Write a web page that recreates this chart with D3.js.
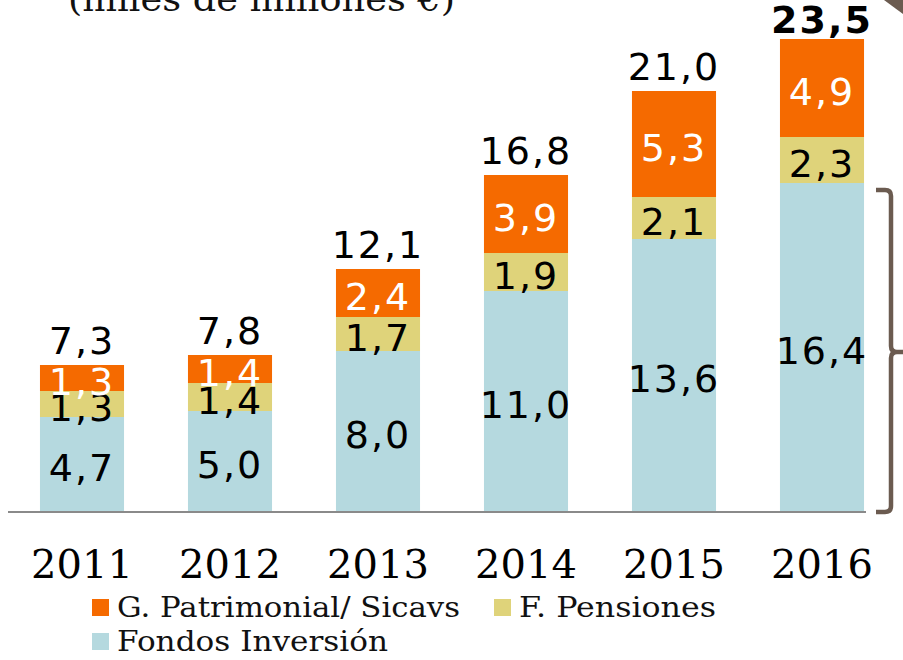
<!DOCTYPE html>
<html><head><meta charset="utf-8">
<script src="https://cdn.jsdelivr.net/npm/d3@7"></script>
<style>body{margin:0;background:#fff}svg{display:block}</style>
</head><body>
<svg id="c" width="903" height="660"></svg>
<script>
const years = ["2011","2012","2013","2014","2015","2016"];
const fondos = [4.7, 5.0, 8.0, 11.0, 13.6, 16.4];
const pensiones = [1.3, 1.4, 1.7, 1.9, 2.1, 2.3];
const patrimonial = [1.3, 1.4, 2.4, 3.9, 5.3, 4.9];
const totals = [7.3, 7.8, 12.1, 16.8, 21.0, 23.5];
const seriesNames = ["G. Patrimonial/ Sicavs", "F. Pensiones", "Fondos Inversión"];
const title = "(miles de millones €)";

const colors = {fondos:"#B5D9DF", pensiones:"#DFD37A", patrimonial:"#F56A00"};
const labelColors = {fondos:"#000", pensiones:"#000", patrimonial:"#fff"};
const fmt = v => d3.format(".1f")(v).replace(".", ",");

const svg = d3.select("#c");
const numFont = "DejaVu Sans";
const txtFont = "DejaVu Serif";

const rows = years.map((y,i)=>({year:y, fondos:fondos[i], pensiones:pensiones[i], patrimonial:patrimonial[i], total:totals[i]}));
const keys = ["fondos","pensiones","patrimonial"];
const stack = d3.stack().keys(keys)(rows);

const x = d3.scaleBand().domain(years).range([8, 896]).paddingInner(0.432).paddingOuter(0.216);
const y = d3.scaleLinear().domain([0, 25]).range([511, 11]);

// title (partially cut at top)
svg.append("text").attr("x", 68).attr("y", 11).attr("font-family", txtFont).attr("font-size", 34)
  .attr("fill", "#111").attr("textLength", 387).attr("lengthAdjust","spacingAndGlyphs").text(title);

// bars
const g = svg.append("g");
stack.forEach(layer => {
  const k = layer.key;
  g.selectAll(null).data(layer).enter().append("rect")
    .attr("x", d => x(d.data.year)).attr("width", x.bandwidth())
    .attr("y", d => y(d[1])).attr("height", d => y(d[0]) - y(d[1]))
    .attr("fill", colors[k]);
});
// segment labels
stack.forEach(layer => {
  const k = layer.key;
  g.selectAll(null).data(layer).enter().append("text")
    .attr("x", d => x(d.data.year) + x.bandwidth()/2)
    .attr("y", d => (y(d[0]) + y(d[1]))/2 + 17)
    .attr("text-anchor", "middle").attr("font-family", numFont).attr("font-size", 38)
    .attr("letter-spacing", 2)
    .attr("fill", labelColors[k]).text(d => fmt(d.data[k]));
});
// totals
g.selectAll(null).data(rows).enter().append("text")
  .attr("x", d => x(d.year) + x.bandwidth()/2)
  .attr("y", (d,i) => y(stack[2][i][1]) - (i===5 ? 6 : 11))
  .attr("text-anchor", "middle").attr("font-family", numFont).attr("font-size", 38)
  .attr("letter-spacing", 2)
  .attr("font-weight", (d,i) => i===5 ? "bold" : "normal")
  .attr("fill", "#000").text(d => fmt(d.total));

// baseline axis
svg.append("line").attr("x1", 8).attr("x2", 866).attr("y1", y(0)+1).attr("y2", y(0)+1)
  .attr("stroke", "#8a8a8a").attr("stroke-width", 2);

// x axis labels
const xAxis = d3.axisBottom(x).tickSize(0).tickPadding(0);
const ax = svg.append("g").attr("transform", `translate(0,${y(0)})`).call(xAxis);
ax.select(".domain").remove();
ax.selectAll("text").attr("font-family", txtFont).attr("font-size", 40).attr("fill", "#000")
  .attr("dy", null).attr("y", 67);

// brace
const bc = "#6B5B50";
svg.append("path")
  .attr("d", "M876,190 L885,190 Q891,190 891,196 L891,346 Q891,352 897,352 L903,352 M897,352 Q891,352 891,358 L891,506 Q891,512 885,512 L876,512")
  .attr("fill", "none").attr("stroke", bc).attr("stroke-width", 4.5);
// arrow corner top right
svg.append("path").attr("d", "M884,0 L903,0 L903,14 Z").attr("fill", bc);

// legend
const legend = [
  {name: seriesNames[0], color: colors.patrimonial, x: 92, y: 599, w: 343},
  {name: seriesNames[1], color: colors.pensiones, x: 494, y: 599, w: 197},
  {name: seriesNames[2], color: colors.fondos, x: 92, y: 633, w: 271}
];
const lg = svg.append("g");
lg.selectAll("rect").data(legend).enter().append("rect")
  .attr("x", d => d.x).attr("y", d => d.y).attr("width", 17).attr("height", 17).attr("fill", d => d.color);
lg.selectAll("text").data(legend).enter().append("text")
  .attr("x", d => d.x + 25).attr("y", d => d.y + 18)
  .attr("font-family", txtFont).attr("font-size", 27).attr("fill", "#111")
  .attr("textLength", d => d.w).attr("lengthAdjust", "spacingAndGlyphs").text(d => d.name);
</script>
</body></html>
